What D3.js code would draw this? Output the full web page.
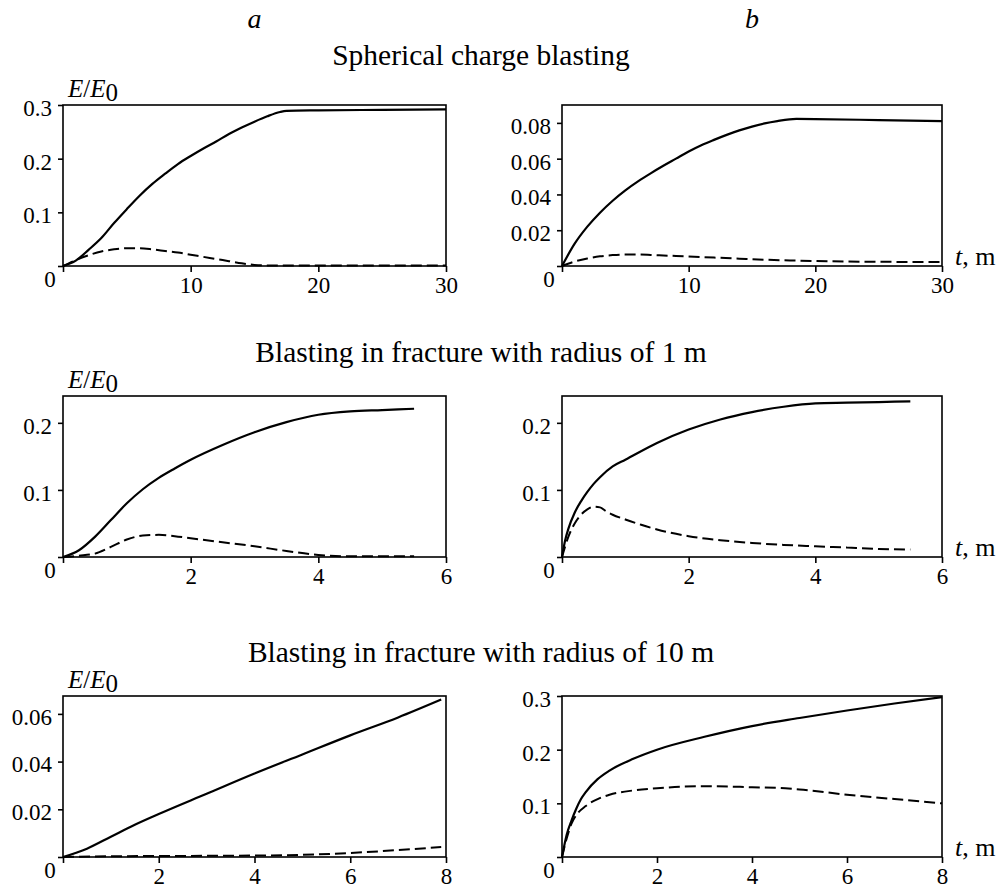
<!DOCTYPE html>
<html>
<head>
<meta charset="utf-8">
<script src="https://cdn.jsdelivr.net/npm/d3@7"></script>
<style>
    body { margin: 0; background: #fff; }
</style>
</head>
<body>
<div id="chart"></div>
<script>
// row titles and column letters
const rowTitles = [
    'Spherical charge blasting',
    'Blasting in fracture with radius of 1 m',
    'Blasting in fracture with radius of 10 m'
];
const colLetters = ['a', 'b'];

// axis ranges and ticks, one entry per row
const xMax = [30, 6, 8];
const xTicks = [[10, 20, 30], [2, 4, 6], [2, 4, 6, 8]];
// column a
const yMaxA = [0.3, 0.24, 0.0675];
const yTicksA = [[0.1, 0.2, 0.3], [0.1, 0.2], [0.02, 0.04, 0.06]];
// column b
const yMaxB = [0.09, 0.24, 0.3];
const yTicksB = [[0.02, 0.04, 0.06, 0.08], [0.1, 0.2], [0.1, 0.2, 0.3]];

// spherical charge, column a
const sphA_t = [0, 1, 2, 3, 4, 5, 6, 7, 8, 9, 10, 11, 12, 13, 14, 15, 16, 17, 17.5, 20, 25, 30];
const sphA_solid = [0, 0.010, 0.030, 0.052, 0.080, 0.106, 0.131, 0.153, 0.172, 0.190, 0.205, 0.219, 0.232, 0.246, 0.258, 0.269, 0.279, 0.287, 0.289, 0.290, 0.291, 0.292];
const sphA_dt = [0, 1, 2, 3, 4, 5, 6, 7, 8, 9, 10, 11, 12, 13, 14, 15, 16, 20, 30];
const sphA_dashed = [0, 0.011, 0.020, 0.027, 0.031, 0.033, 0.033, 0.031, 0.028, 0.025, 0.021, 0.017, 0.013, 0.009, 0.005, 0.002, 0.001, 0.001, 0.001];

// spherical charge, column b
const sphB_t = [0, 1, 2, 3, 4, 5, 6, 7, 8, 9, 10, 11, 12, 13, 14, 15, 16, 17, 18.5, 20, 25, 30];
const sphB_solid = [0, 0.0125, 0.022, 0.0298, 0.0365, 0.0423, 0.0473, 0.0518, 0.056, 0.060, 0.064, 0.0675, 0.0705, 0.0733, 0.0758, 0.0779, 0.0797, 0.081, 0.0822, 0.0821, 0.0816, 0.081];
const sphB_dt = [0, 1, 2, 3, 4, 5, 6, 7, 8, 10, 12, 14, 16, 18, 20, 24, 27, 30];
const sphB_dashed = [0, 0.0025, 0.0042, 0.0054, 0.0061, 0.0064, 0.0064, 0.0062, 0.0059, 0.0053, 0.0047, 0.0041, 0.0035, 0.0031, 0.0028, 0.0024, 0.0023, 0.0023];

// fracture 1 m, column a
const fr1A_t = [0, 0.25, 0.5, 0.75, 1, 1.25, 1.5, 1.75, 2, 2.5, 3, 3.5, 4, 4.5, 5, 5.5];
const fr1A_solid = [0, 0.010, 0.030, 0.055, 0.080, 0.101, 0.118, 0.132, 0.145, 0.167, 0.186, 0.201, 0.212, 0.217, 0.219, 0.221];
const fr1A_dt = [0, 0.25, 0.5, 0.75, 1, 1.25, 1.5, 1.75, 2, 2.5, 3, 3.5, 4, 4.5, 5.5];
const fr1A_dashed = [0, 0.002, 0.005, 0.015, 0.026, 0.032, 0.033, 0.031, 0.028, 0.022, 0.016, 0.009, 0.003, 0.001, 0.001];

// fracture 1 m, column b
const fr1B_t = [0, 0.05, 0.1, 0.2, 0.3, 0.4, 0.5, 0.6, 0.8, 1, 1.5, 2, 2.5, 3, 3.5, 4, 4.5, 5, 5.5];
const fr1B_solid = [0, 0.025, 0.042, 0.066, 0.083, 0.097, 0.109, 0.119, 0.135, 0.145, 0.170, 0.190, 0.205, 0.216, 0.224, 0.229, 0.230, 0.231, 0.232];
const fr1B_dt = [0, 0.1, 0.2, 0.3, 0.4, 0.5, 0.6, 0.7, 0.8, 1, 1.25, 1.5, 2, 2.5, 3, 3.5, 4, 4.5, 5, 5.5];
const fr1B_dashed = [0, 0.030, 0.050, 0.063, 0.071, 0.075, 0.074, 0.068, 0.063, 0.056, 0.048, 0.041, 0.031, 0.025, 0.021, 0.018, 0.016, 0.014, 0.012, 0.011];

// fracture 10 m, column a
const fr10A_t = [0, 0.5, 1, 1.5, 2, 3, 4, 5, 6, 7, 7.9];
const fr10A_solid = [0, 0.0035, 0.0085, 0.0135, 0.018, 0.0265, 0.035, 0.043, 0.051, 0.0585, 0.066];
const fr10A_dt = [0, 1, 2, 3, 4, 5, 6, 7, 7.9];
const fr10A_dashed = [0, 0.0003, 0.0004, 0.0005, 0.0006, 0.0009, 0.0017, 0.0029, 0.0042];

// fracture 10 m, column b
const fr10B_t = [0, 0.1, 0.2, 0.3, 0.4, 0.5, 0.75, 1, 1.5, 2, 3, 4, 5, 6, 7, 8];
const fr10B_solid = [0, 0.042, 0.068, 0.090, 0.108, 0.121, 0.145, 0.161, 0.183, 0.200, 0.224, 0.244, 0.259, 0.273, 0.286, 0.298];
const fr10B_dt = [0, 0.1, 0.2, 0.3, 0.5, 0.75, 1, 1.5, 2, 2.5, 3, 4, 4.7, 5, 6, 7, 8];
const fr10B_dashed = [0, 0.035, 0.062, 0.078, 0.095, 0.108, 0.116, 0.124, 0.128, 0.131, 0.132, 0.130, 0.128, 0.126, 0.116, 0.108, 0.100];

// panel list: [row][col]
const panels = [
    [
        { solid: [sphA_t, sphA_solid], dashed: [sphA_dt, sphA_dashed], yMax: yMaxA[0], yTicks: yTicksA[0] },
        { solid: [sphB_t, sphB_solid], dashed: [sphB_dt, sphB_dashed], yMax: yMaxB[0], yTicks: yTicksB[0] }
    ],
    [
        { solid: [fr1A_t, fr1A_solid], dashed: [fr1A_dt, fr1A_dashed], yMax: yMaxA[1], yTicks: yTicksA[1] },
        { solid: [fr1B_t, fr1B_solid], dashed: [fr1B_dt, fr1B_dashed], yMax: yMaxB[1], yTicks: yTicksB[1] }
    ],
    [
        { solid: [fr10A_t, fr10A_solid], dashed: [fr10A_dt, fr10A_dashed], yMax: yMaxA[2], yTicks: yTicksA[2] },
        { solid: [fr10B_t, fr10B_solid], dashed: [fr10B_dt, fr10B_dashed], yMax: yMaxB[2], yTicks: yTicksB[2] }
    ]
];

// layout
const width = 1006, height = 888;
const colLeft = [63, 562];
const colWidth = [383, 380];
const rowTop = [105, 396, 696];
const plotHeight = 161;
const titleBaseline = [65, 362, 662];
const serif = '"Liberation Serif", "Times New Roman", Times, serif';
const tickFont = '23px';

const svg = d3.select('#chart')
    .append('svg')
    .attr('width', width)
    .attr('height', height);

svg.append('rect').attr('width', width).attr('height', height).attr('fill', '#fff');

// column letters
colLetters.forEach((letter, c) => {
    svg.append('text')
        .attr('x', colLeft[c] + colWidth[c] / 2)
        .attr('y', 28)
        .attr('text-anchor', 'middle')
        .style('font-family', serif)
        .style('font-size', '28px')
        .style('font-style', 'italic')
        .text(letter);
});

// row titles
rowTitles.forEach((title, r) => {
    svg.append('text')
        .attr('x', 481)
        .attr('y', titleBaseline[r])
        .attr('text-anchor', 'middle')
        .style('font-family', serif)
        .style('font-size', '29.5px')
        .text(title);
});

const fmt = d => d === 0 ? '' : d3.format('~g')(d);
const zip = arr => arr[0].map((t, i) => [t, arr[1][i]]);

panels.forEach((row, r) => {
    row.forEach((p, c) => {
        const left = colLeft[c], top = rowTop[r];
        const w = colWidth[c], h = plotHeight;

        const x = d3.scaleLinear().domain([0, xMax[r]]).range([0, w]);
        const y = d3.scaleLinear().domain([0, p.yMax]).range([h, 0]);

        const g = svg.append('g').attr('transform', `translate(${left},${top})`);

        // axes
        g.append('g')
            .attr('transform', `translate(0,${h})`)
            .call(d3.axisBottom(x).tickValues([0].concat(xTicks[r])).tickSize(6).tickPadding(5).tickFormat(fmt))
            .attr('font-family', null).attr('font-size', null)
            .call(a => a.select('.domain').remove())
            .call(a => a.selectAll('line').attr('stroke', '#000').attr('stroke-width', 1.6))
            .call(a => a.selectAll('text').style('font-family', serif).style('font-size', tickFont));

        g.append('g')
            .call(d3.axisLeft(y).tickValues([0].concat(p.yTicks)).tickSize(5).tickPadding(6).tickFormat(fmt))
            .attr('font-family', null).attr('font-size', null)
            .call(a => a.select('.domain').remove())
            .call(a => a.selectAll('line').attr('stroke', '#000').attr('stroke-width', 1.6))
            .call(a => a.selectAll('text').style('font-family', serif).style('font-size', tickFont).attr('dy', '0.45em'));

        // frame
        g.append('rect')
            .attr('width', w)
            .attr('height', h)
            .attr('fill', 'none')
            .attr('stroke', '#000')
            .attr('stroke-width', 1.6);

        // shared origin label
        g.append('text')
            .attr('x', -13)
            .attr('y', h + 21)
            .attr('text-anchor', 'middle')
            .style('font-family', serif)
            .style('font-size', tickFont)
            .text('0');

        const line = d3.line()
            .x(d => x(d[0]))
            .y(d => y(d[1]))
            .curve(d3.curveMonotoneX);

        g.append('path')
            .attr('d', line(zip(p.dashed)))
            .attr('fill', 'none')
            .attr('stroke', '#000')
            .attr('stroke-width', 2)
            .attr('stroke-dasharray', '11,5');

        g.append('path')
            .attr('d', line(zip(p.solid)))
            .attr('fill', 'none')
            .attr('stroke', '#000')
            .attr('stroke-width', 2.2);

        if (c === 0) {
            // y label on column a
            const lab = g.append('text')
                .attr('x', 5)
                .attr('y', -8)
                .style('font-family', serif)
                .style('font-size', '25px');
            lab.append('tspan').style('font-style', 'italic').text('E');
            lab.append('tspan').text('/');
            lab.append('tspan').style('font-style', 'italic').text('E');
            lab.append('tspan').attr('dy', 4).text('0');
        } else {
            // x label on column b
            const lab = g.append('text')
                .attr('x', w + 13)
                .attr('y', h - 1)
                .style('font-family', serif)
                .style('font-size', '26px');
            lab.append('tspan').style('font-style', 'italic').text('t');
            lab.append('tspan').text(', m');
        }
    });
});
</script>
</body>
</html>
